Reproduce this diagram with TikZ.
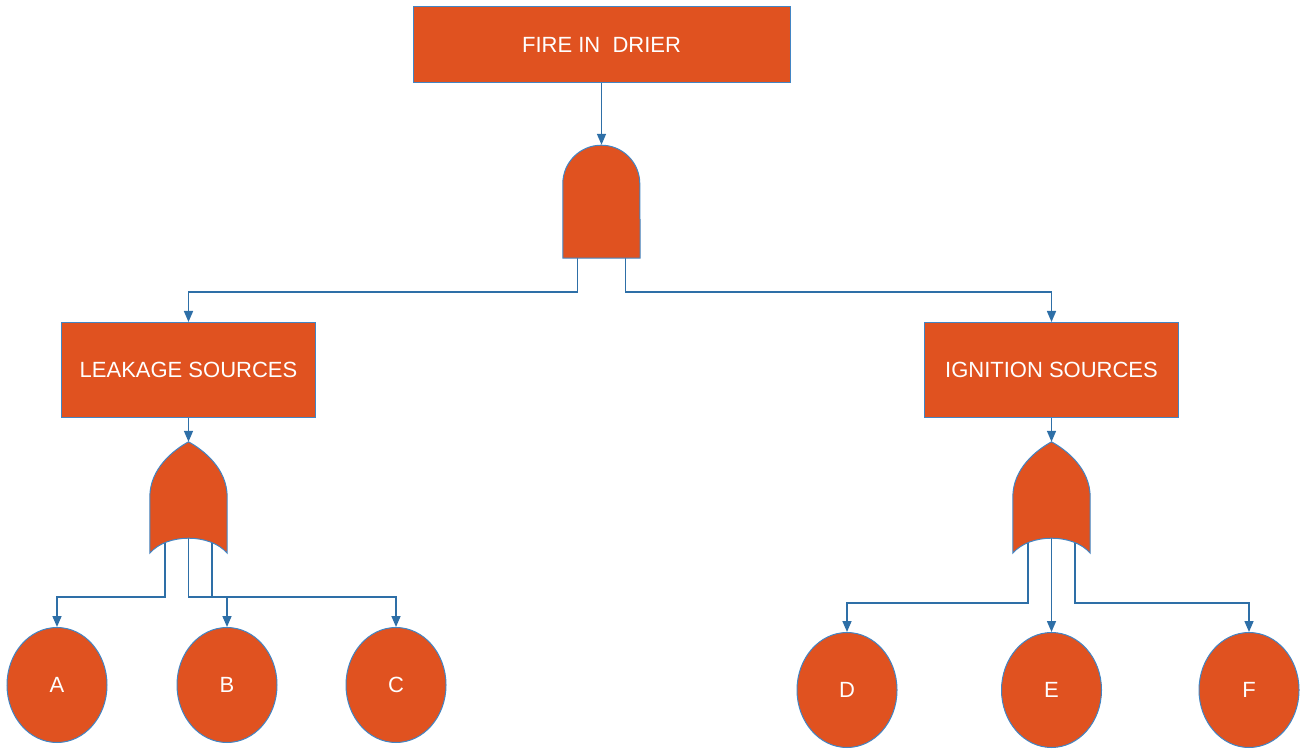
\documentclass[tikz,border=0pt]{standalone}
\usepackage{fontspec}
\setmainfont{Liberation Sans}
\usepackage{tikz}
\usetikzlibrary{arrows.meta, positioning, calc, shapes.geometric}
\definecolor{evtfill}{RGB}{224,82,32}
\definecolor{evtedge}{RGB}{66,133,196}
\definecolor{linkblue}{RGB}{46,111,167}

\begin{document}
\begin{tikzpicture}[x=1pt, y=1pt,
                event/.style={rectangle, draw=evtedge, line width=1pt, fill=evtfill, text=white, minimum width=254pt, minimum height=95pt, font=\fontsize{22}{26}\selectfont},
                basic/.style={ellipse, draw=evtedge, line width=1pt, fill=evtfill, text=white, minimum width=100pt, minimum height=115pt, inner sep=0pt, font=\fontsize{22}{26}\selectfont},
                gatebox/.style={rectangle, draw=none, minimum width=77pt, inner sep=0pt},
                gate/.style={draw=evtedge, line width=1pt, fill=evtfill},
                arrow/.style={-{Triangle[length=11pt, width=9pt]}, line width=1.6pt, draw=linkblue}
            ]
                \useasboundingbox (0,0) rectangle (1311,750);

                \node (top) [event, minimum width=377pt, minimum height=76pt] at (601.5,705) {FIRE IN\ \ DRIER};
                \node (andg) [gatebox, minimum height=113pt] at (601.5,548.5) {};
                \node (leak) [event] at (188.5,380) {LEAKAGE SOURCES};
                \node (ign) [event] at (1051.5,380) {IGNITION SOURCES};
                \node (orL) [gatebox, minimum height=111pt] at (188.5,252.5) {};
                \node (orR) [gatebox, minimum height=111pt] at (1051.5,252.5) {};

                \node (A) [basic] at (57,65) {A};
                \node (B) [basic] at (227,65) {B};
                \node (C) [basic] at (396,65) {C};
                \node (D) [basic] at (847,60) {D};
                \node (E) [basic] at (1051.5,60) {E};
                \node (F) [basic] at (1249,60) {F};

                \coordinate (busT) at (0,458);
                \coordinate (busL) at (0,153);
                \coordinate (busR) at (0,147);

                % connectors
                \draw [arrow] (top.south) -- (andg.north);
                \draw [arrow] ($(andg.south)+(-24,0)$) |- (leak.north |- busT) -- (leak.north);
                \draw [arrow] ($(andg.south)+(24,0)$) |- (ign.north |- busT) -- (ign.north);
                \draw [arrow] (leak.south) -- (orL.north);
                \draw [arrow] (ign.south) -- (orR.north);

                \draw [arrow] ($(orL.south)+(-23.5,15)$) |- (A.north |- busL) -- (A.north);
                \draw [arrow] ($(orL.south)+(0,15)$) |- (B.north |- busL) -- (B.north);
                \draw [arrow] ($(orL.south)+(23.5,15)$) |- (C.north |- busL) -- (C.north);
                \draw [arrow] ($(orR.south)+(-23.5,15)$) |- (D.north |- busR) -- (D.north);
                \draw [arrow] ($(orR.south)+(0,15)$) -- (E.north);
                \draw [arrow] ($(orR.south)+(23.5,15)$) |- (F.north |- busR) -- (F.north);

                % gates
                \draw [gate] (andg.south west) -- ++(0,74.5) arc[start angle=180, end angle=0, radius=38.5] -- (andg.south east) -- cycle;
                \foreach \g in {orL, orR}
                    \draw [gate] (\g.south west) -- ++(0,56) .. controls +(0,29) and +(-14.5,-8) .. (\g.north)
                        .. controls +(14.5,-8) and +(0,29) .. ($(\g.south east)+(0,56)$) -- (\g.south east)
                        .. controls +(-17,20) and +(17,20) .. (\g.south west) -- cycle;
            \end{tikzpicture}
\end{document}
